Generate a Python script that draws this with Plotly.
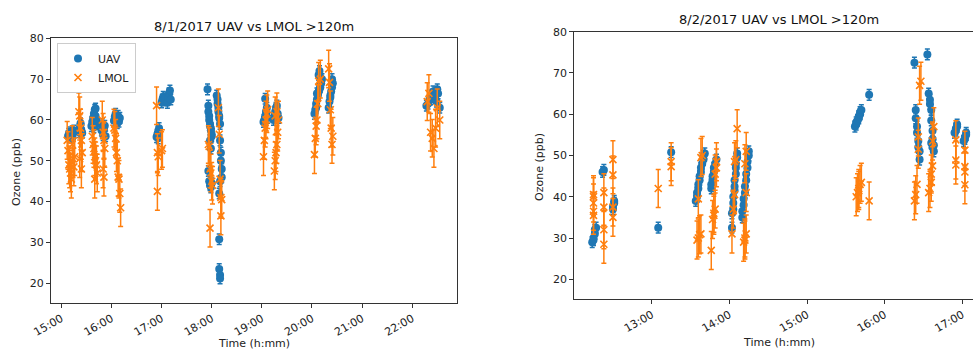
import plotly.graph_objects as go

# ---------------- data (8/1/2017) ----------------
d1_uav_t = ["15:08","15:09","15:10","15:11","15:12","15:13","15:14","15:15",
            "15:21","15:22","15:23","15:24","15:25","15:23",
            "15:36","15:37","15:38","15:39","15:40","15:41","15:42","15:43","15:39","15:41",
            "15:48","15:49","15:50","15:51","15:52","15:53",
            "16:03","16:04","16:05","16:06","16:07","16:08","16:09","16:10",
            "16:54","16:55","16:56","16:57","16:56",
            "17:00","17:01","17:02","17:03","17:04",
            "17:07","17:08","17:09","17:10","17:11",
            "17:55","17:56","17:56","17:57","17:57","17:58","17:58","17:59","17:59","18:00","18:00","17:58","17:59","17:56","17:57","17:58","17:59","18:00",
            "18:06","18:07","18:07","18:08","18:08","18:09","18:09","18:10","18:10","18:11","18:11","18:12","18:12","18:10","18:09","18:09","18:09","18:10","18:10",
            "19:02","19:03","19:04","19:05","19:06","19:04","19:07","19:05",
            "19:14","19:15","19:16","19:17","19:18","19:19","19:20",
            "20:03","20:04","20:05","20:06","20:07","20:08","20:09","20:10","20:11","20:12","20:08","20:09","20:10","20:06","20:05",
            "20:20","20:21","20:22","20:23","20:24","20:25","20:24","20:22",
            "22:17","22:19","22:21","22:23","22:25","22:27","22:29","22:31","22:33","22:30","22:22","22:26"]
d1_uav_v = [56.0,56.6,55.7,57.0,56.2,55.6,56.9,57.4,
            57.0,58.0,58.8,57.5,56.8,59.2,
            58.5,59.5,60.5,61.5,62.5,61.0,60.0,59.0,58.2,62.8,
            57.5,59.0,56.3,57.8,58.6,56.0,
            59.8,60.8,61.5,60.2,59.2,61.0,59.6,60.5,
            55.8,56.5,57.3,58.0,55.5,
            64.3,65.0,65.7,64.8,65.3,
            64.2,65.5,66.5,67.2,65.0,
            67.5,63.5,62.0,61.0,60.0,59.0,58.5,58.0,57.5,56.5,56.0,55.0,53.0,47.5,45.0,44.0,43.5,44.5,
            66.0,65.0,64.0,63.0,62.0,61.0,60.5,59.0,55.0,52.0,50.0,48.0,46.0,45.0,42.0,30.8,23.5,22.0,21.2,
            59.5,60.0,61.0,62.0,63.0,65.2,60.5,61.5,
            60.0,61.0,62.0,63.0,63.5,61.5,60.5,
            61.5,62.5,64.0,65.0,66.0,67.0,67.5,68.0,69.0,70.0,71.0,72.0,70.5,66.5,63.0,
            63.0,64.5,66.0,67.0,68.0,69.0,70.0,65.5,
            63.5,64.0,65.0,66.0,67.0,65.5,64.5,66.5,63.0,67.5,65.0,66.0]

d1_lmol_t = ["15:07","15:08","15:09","15:10","15:11","15:12","15:13","15:14","15:15","15:16",
             "15:21","15:22","15:23","15:24","15:25","15:22","15:24",
             "15:37","15:38","15:39","15:40","15:41","15:42","15:43","15:40",
             "15:49","15:50","15:51","15:52","15:50","15:51",
             "16:03","16:04","16:05","16:06","16:07","16:08","16:09","16:10","16:11",
             "16:54","16:55","16:56","16:55",
             "17:00","17:01",
             "17:56","17:57","17:58","17:59","18:00","18:01","17:58",
             "18:08","18:09","18:10","18:11","18:12","18:11",
             "19:02","19:03","19:04","19:05","19:06","19:07",
             "19:15","19:16","19:17","19:18","19:19","19:20","19:16","19:18",
             "20:03","20:04","20:05","20:06","20:07","20:08","20:10",
             "20:20","20:21","20:22","20:23","20:24","20:25",
             "22:18","22:20","22:22","22:24","22:26","22:28","22:30","22:33"]
d1_lmol_v = [55.0,52.5,49.0,48.0,47.0,45.5,54.0,50.5,48.5,51.0,
             62.0,61.0,58.0,55.0,52.0,50.5,48.0,
             56.0,54.0,53.0,51.0,50.0,49.0,47.0,45.5,
             60.0,57.0,55.0,53.0,48.0,46.0,
             58.0,57.5,55.5,52.0,50.0,46.0,45.5,42.0,38.5,
             63.5,52.0,51.0,42.5,
             52.5,53.0,
             54.0,53.5,48.0,47.0,45.0,44.0,33.5,
             63.0,56.5,45.5,41.0,40.5,36.5,
             51.0,55.0,58.0,60.0,61.5,62.5,
             47.5,50.0,52.0,54.0,57.0,60.0,61.0,62.0,
             51.5,55.5,58.5,60.0,64.0,69.5,70.0,
             72.5,69.2,62.5,58.0,54.0,56.0,
             64.5,66.5,57.0,55.5,53.0,58.0,63.0,60.0]

# ---------------- data (8/2/2017) ----------------
d2_uav_t = ["12:14","12:15","12:15","12:16","12:16","12:17",
            "12:22","12:23",
            "12:30","12:30","12:31","12:31",
            "13:05",
            "13:15",
            "13:34","13:35","13:35","13:36","13:36","13:37","13:37","13:38","13:38","13:39","13:40","13:40","13:41",
            "13:46","13:46","13:47","13:47","13:48","13:48","13:49","13:50",
            "14:02","14:02","14:03","14:03","14:03","14:04","14:04","14:04","14:05","14:05","14:05","14:06","14:06",
            "14:10","14:10","14:11","14:11","14:12","14:12","14:13","14:13","14:14","14:14","14:15","14:15",
            "15:37","15:38","15:38","15:39","15:40","15:40","15:41","15:41","15:42",
            "15:48",
            "16:23","16:24","16:24","16:25","16:25","16:26","16:26","16:27","16:27",
            "16:33",
            "16:34","16:35","16:35","16:36","16:36","16:37","16:37","16:38","16:38","16:37","16:36",
            "16:54","16:55","16:55","16:56","16:56",
            "17:01","17:02","17:02","17:03","17:03"]
d2_uav_v = [29.0,29.5,30.0,31.0,32.0,32.5,
            46.0,46.5,
            37.0,37.5,38.5,39.0,
            32.5,
            50.8,
            39.0,40.0,41.0,42.0,43.0,44.0,45.0,46.0,47.0,48.0,49.0,50.0,50.5,
            42.0,43.0,44.0,45.0,46.0,47.0,48.0,49.0,
            32.5,36.0,37.0,38.5,40.0,41.5,42.5,44.0,45.5,47.0,48.0,49.5,50.5,
            35.0,36.5,38.0,39.5,41.0,42.5,44.0,45.5,47.0,48.5,50.0,51.0,
            57.0,57.5,58.0,58.5,59.0,59.5,60.0,60.5,61.0,
            64.7,
            72.5,61.0,59.0,57.0,55.5,53.5,52.0,51.0,49.0,
            74.5,
            65.0,63.5,62.5,61.0,58.5,56.0,54.0,52.5,51.0,52.0,53.0,
            55.5,56.0,56.5,57.0,57.5,
            53.5,54.0,54.5,55.0,55.5]

d2_lmol_t = ["12:15","12:15","12:15","12:15","12:15",
             "12:23","12:23","12:23","12:23",
             "12:30","12:30","12:30","12:30",
             "13:05",
             "13:15","13:15",
             "13:35","13:36","13:37","13:38","13:36","13:38","13:39",
             "13:46","13:47","13:48","13:48","13:49","13:49","13:50","13:50",
             "14:02","14:03","14:04","14:04","14:05","14:06",
             "14:11","14:12","14:12","14:13","14:13","14:12","14:13",
             "15:38","15:39","15:40","15:40","15:41","15:42",
             "15:48",
             "16:23","16:24","16:25","16:26","16:26","16:27","16:28",
             "16:34","16:35","16:36","16:36","16:37","16:37","16:38",
             "16:55","16:55","16:55",
             "17:02","17:02","17:02","17:02"]
d2_lmol_v = [40.5,40.0,38.5,36.5,35.5,
             28.5,32.0,37.5,41.0,
             35.0,37.5,45.3,49.0,
             42.0,
             47.3,48.5,
             29.5,30.0,30.8,31.0,39.5,49.5,50.0,
             27.0,34.5,35.5,36.0,37.0,45.5,47.0,48.5,
             31.0,37.0,40.5,48.5,49.0,56.5,
             29.0,29.5,30.0,31.0,41.0,48.0,51.0,
             40.0,41.0,41.5,42.0,43.0,43.5,
             39.0,
             39.0,40.5,43.0,51.5,54.5,67.0,68.0,
             41.0,42.0,43.5,45.5,47.5,53.5,57.0,
             47.7,48.9,53.8,
             42.9,46.0,47.3,51.3]

uav_err = 1.3
lmol_err = 4.6

day1 = "2017-08-01"
day2 = "2017-08-02"
yticks = [20, 30, 40, 50, 60, 70, 80]
titles = ["8/1/2017 UAV vs LMOL >120m", "8/2/2017 UAV vs LMOL >120m"]

BLUE = "#1f77b4"
ORANGE = "#ff7f0e"
FONT = "DejaVu Sans"
W, H = 973, 351

fig = go.Figure()


def add_panel(day, ut, uv, lt, lv, xa, ya, legend):
    fig.add_trace(go.Scatter(
        x=[f"{day} {t}" for t in ut], y=uv, mode="markers", name="UAV",
        marker=dict(symbol="circle", size=8, color=BLUE),
        error_y=dict(type="constant", value=uav_err, color=BLUE, thickness=1.5, width=2.5),
        xaxis=xa, yaxis=ya, showlegend=legend))
    fig.add_trace(go.Scatter(
        x=[f"{day} {t}" for t in lt], y=lv, mode="markers", name="LMOL",
        marker=dict(symbol="x-thin", size=7, color=ORANGE, line=dict(color=ORANGE, width=1.6)),
        error_y=dict(type="constant", value=lmol_err, color=ORANGE, thickness=1.5, width=2.5),
        xaxis=xa, yaxis=ya, showlegend=legend))


add_panel(day1, d1_uav_t, d1_uav_v, d1_lmol_t, d1_lmol_v, "x", "y", True)
add_panel(day2, d2_uav_t, d2_uav_v, d2_lmol_t, d2_lmol_v, "x2", "y2", False)

axis_common = dict(showline=True, linecolor="#333", linewidth=1, ticks="outside",
                   ticklen=4, tickcolor="#333", showgrid=False, zeroline=False,
                   automargin=False,
                   tickfont=dict(family=FONT, size=11, color="#222"))

fig.update_layout(
    template="none",
    width=W, height=H, margin=dict(l=0, r=0, t=0, b=0, pad=0, autoexpand=False),
    plot_bgcolor="white", paper_bgcolor="white",
    font=dict(family=FONT, size=11, color="#222"),
    hovermode=False,
    xaxis=dict(domain=[51 / W, 457 / W], anchor="y", type="date",
               range=[f"{day1} 14:47:38", f"{day1} 22:53:38"],
               dtick=3600000, tick0=f"{day1} 15:00", tickformat="%H:%M", tickangle=-30,
               mirror=True, **axis_common),
    yaxis=dict(domain=[1 - 303 / H, 1 - 37.7 / H], anchor="x", range=[15.17, 80.15],
               tickvals=yticks, mirror=True, **axis_common),
    xaxis2=dict(domain=[574.3 / W, 1.0], anchor="y2", type="date",
                range=[f"{day2} 12:00:09", f"{day2} 17:08:16"],
                dtick=3600000, tick0=f"{day2} 13:00", tickformat="%H:%M", tickangle=-30,
                mirror=True, **axis_common),
    yaxis2=dict(domain=[1 - 299.3 / H, 1 - 31.7 / H], anchor="x2", range=[15.15, 80.0],
                tickvals=yticks, mirror=False, **axis_common),
    legend=dict(x=57 / W, y=1 - 43 / H, xanchor="left", yanchor="top",
                bordercolor="#cccccc", borderwidth=1, bgcolor="rgba(255,255,255,0.8)",
                font=dict(family=FONT, size=11, color="#222"), itemsizing="trace",
                tracegroupgap=0, itemwidth=30),
    showlegend=True,
)

ann = []
for cx, cy, txt in [(254, 27, titles[0]), (778.7, 20, titles[1])]:
    ann.append(dict(x=cx / W, y=1 - cy / H, xref="paper", yref="paper", text=txt,
                    showarrow=False, xanchor="center", yanchor="middle",
                    font=dict(family=FONT, size=13, color="#111")))
for cx, cy in [(254, 343), (778.7, 342)]:
    ann.append(dict(x=cx / W, y=1 - cy / H, xref="paper", yref="paper", text="Time (h:mm)",
                    showarrow=False, xanchor="center", yanchor="middle",
                    font=dict(family=FONT, size=11, color="#222")))
for cx, cy in [(16, 172), (539, 167)]:
    ann.append(dict(x=cx / W, y=1 - cy / H, xref="paper", yref="paper", text="Ozone (ppb)",
                    showarrow=False, xanchor="center", yanchor="middle", textangle=-90,
                    font=dict(family=FONT, size=11, color="#222")))
fig.update_layout(annotations=ann)

fig.write_html(
    "out.html",
    config={"displayModeBar": False, "staticPlot": True},
    post_script="document.body.style.margin='0';document.body.style.padding='0';"
                "document.body.style.overflow='hidden';",
)
